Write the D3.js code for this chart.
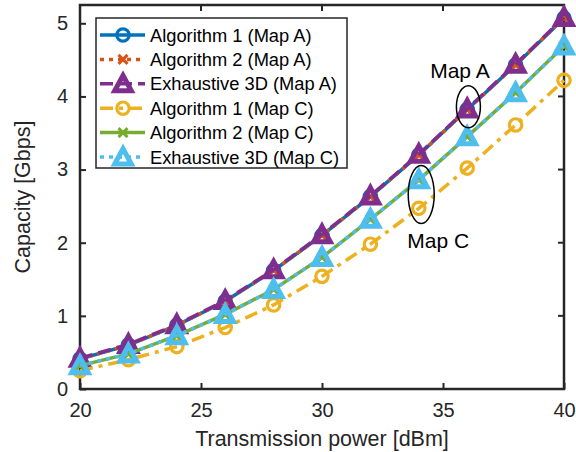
<!DOCTYPE html>
<html>
<head>
<meta charset="utf-8">
<script src="https://cdn.jsdelivr.net/npm/d3@7"></script>
<style>
  body { margin: 0; background: #fff; }
  text { font-family: "Liberation Sans", Arial, sans-serif; fill: #262626; }
</style>
</head>
<body>
<div id="chart"></div>
<script>
var w = 576;
var h = 452;

// data
var power = [20, 22, 24, 26, 28, 30, 32, 34, 36, 38, 40];
var alg1MapA = [0.41, 0.60, 0.87, 1.20, 1.62, 2.10, 2.63, 3.20, 3.82, 4.43, 5.07];
var alg2MapA = [0.41, 0.60, 0.87, 1.20, 1.62, 2.10, 2.63, 3.20, 3.82, 4.43, 5.07];
var exhMapA  = [0.42, 0.61, 0.88, 1.21, 1.63, 2.11, 2.64, 3.21, 3.83, 4.44, 5.08];
var alg1MapC = [0.25, 0.40, 0.58, 0.84, 1.15, 1.54, 1.98, 2.47, 3.02, 3.61, 4.22];
var alg2MapC = [0.32, 0.48, 0.73, 1.02, 1.36, 1.80, 2.32, 2.86, 3.45, 4.05, 4.69];
var exhMapC  = [0.32, 0.48, 0.73, 1.02, 1.36, 1.80, 2.32, 2.86, 3.45, 4.05, 4.69];
var xTicks = [20, 25, 30, 35, 40];
var yTicks = [0, 1, 2, 3, 4, 5];

var series = [
  {name: "Algorithm 1 (Map A)", values: alg1MapA, color: "#0072BD", dash: null, marker: "circle"},
  {name: "Algorithm 2 (Map A)", values: alg2MapA, color: "#D95319", dash: "4,5", marker: "cross"},
  {name: "Exhaustive 3D (Map A)", values: exhMapA, color: "#7E2F8E", dash: "13,6", marker: "triangle"},
  {name: "Algorithm 1 (Map C)", values: alg1MapC, color: "#EDB120", dash: "13,6,4,6", marker: "circle"},
  {name: "Algorithm 2 (Map C)", values: alg2MapC, color: "#77AC30", dash: null, marker: "cross"},
  {name: "Exhaustive 3D (Map C)", values: exhMapC, color: "#4DBEEE", dash: "4,5", marker: "triangle"}
];

var margin = {left: 80, right: 12, top: 5, bottom: 63};

var x = d3.scaleLinear().domain([20, 40]).range([margin.left, w - margin.right]);
var y = d3.scaleLinear().domain([0, 5.25]).range([h - margin.bottom, margin.top]);

var svg = d3.select("#chart").append("svg")
  .attr("width", w)
  .attr("height", h);

// axes box
var axisColor = "#262626";
svg.append("rect")
  .attr("x", margin.left).attr("y", margin.top)
  .attr("width", w - margin.left - margin.right)
  .attr("height", h - margin.top - margin.bottom)
  .attr("fill", "none").attr("stroke", axisColor).attr("stroke-width", 2.5);

var xAxis = d3.axisBottom(x).tickValues(xTicks).tickFormat(d3.format("d"))
  .tickSizeInner(-6).tickSizeOuter(0).tickPadding(14);
var gx = svg.append("g").attr("transform", "translate(0," + (h - margin.bottom) + ")").call(xAxis);
gx.select(".domain").remove();
gx.selectAll("line").attr("stroke", axisColor).attr("stroke-width", 2);
gx.selectAll("text").style("font-size", "20px").attr("fill", axisColor);

var yAxis = d3.axisLeft(y).tickValues(yTicks).tickFormat(d3.format("d"))
  .tickSizeInner(-6).tickSizeOuter(0).tickPadding(12);
var gy = svg.append("g").attr("transform", "translate(" + margin.left + ",0)").call(yAxis);
gy.select(".domain").remove();
gy.selectAll("line").attr("stroke", axisColor).attr("stroke-width", 2);
gy.selectAll("text").style("font-size", "20px").attr("fill", axisColor);

// ticks on the top and right sides of the box
svg.append("g").selectAll("line").data(yTicks).enter().append("line")
  .attr("x1", w - margin.right).attr("x2", w - margin.right - 6)
  .attr("y1", function(d) { return y(d); }).attr("y2", function(d) { return y(d); })
  .attr("stroke", axisColor).attr("stroke-width", 2);
svg.append("g").selectAll("line").data(xTicks).enter().append("line")
  .attr("y1", margin.top).attr("y2", margin.top + 6)
  .attr("x1", function(d) { return x(d); }).attr("x2", function(d) { return x(d); })
  .attr("stroke", axisColor).attr("stroke-width", 2);

// plot lines
var line = d3.line()
  .x(function(d, i) { return x(power[i]); })
  .y(function(d) { return y(d); });

function drawMarker(g, type, color, cx, cy) {
  if (type == "circle") {
    g.append("circle").attr("cx", cx).attr("cy", cy).attr("r", 6.2)
      .attr("fill", "none").attr("stroke", color).attr("stroke-width", 3.2);
  } else if (type == "cross") {
    var s = 4.5;
    g.append("path")
      .attr("d", "M" + (cx - s) + "," + (cy - s) + "L" + (cx + s) + "," + (cy + s) +
                 "M" + (cx - s) + "," + (cy + s) + "L" + (cx + s) + "," + (cy - s))
      .attr("fill", "none").attr("stroke", color).attr("stroke-width", 3);
  } else {
    var r = 8.3;
    g.append("path")
      .attr("d", "M" + cx + "," + (cy - r) + "L" + (cx + r) + "," + (cy + r * 0.85) +
                 "L" + (cx - r) + "," + (cy + r * 0.85) + "Z")
      .attr("fill", "none").attr("stroke", color).attr("stroke-width", 5)
      .attr("stroke-linejoin", "miter");
  }
}

var plot = svg.append("g");
series.forEach(function(s) {
  plot.append("path")
    .attr("d", line(s.values))
    .attr("fill", "none")
    .attr("stroke", s.color)
    .attr("stroke-width", 3.5)
    .attr("stroke-dasharray", s.dash);
  s.values.forEach(function(v, i) {
    drawMarker(plot, s.marker, s.color, x(power[i]), y(v));
  });
});

// axis labels
svg.append("text")
  .attr("x", (margin.left + w - margin.right) / 2)
  .attr("y", 446)
  .style("text-anchor", "middle")
  .style("font-size", "21.5px")
  .text("Transmission power [dBm]");

svg.append("text")
  .attr("transform", "translate(30," + ((margin.top + h - margin.bottom) / 2) + ") rotate(-90)")
  .style("text-anchor", "middle")
  .style("font-size", "21.5px")
  .text("Capacity [Gbps]");

// annotations
svg.append("ellipse").attr("cx", x(36.05)).attr("cy", y(3.86)).attr("rx", 12).attr("ry", 21)
  .attr("fill", "none").attr("stroke", "#000").attr("stroke-width", 1.5);
svg.append("text").attr("x", x(35.7)).attr("y", 78)
  .style("text-anchor", "middle").style("font-size", "21px").style("fill", "#000")
  .text("Map A");
svg.append("ellipse").attr("cx", x(34.1)).attr("cy", y(2.66)).attr("rx", 13).attr("ry", 29)
  .attr("fill", "none").attr("stroke", "#000").attr("stroke-width", 1.5);
svg.append("text").attr("x", x(34.8)).attr("y", 248)
  .style("text-anchor", "middle").style("font-size", "21px").style("fill", "#000")
  .text("Map C");

// legend
var leg = svg.append("g");
leg.append("rect")
  .attr("x", 96).attr("y", 18).attr("width", 251).attr("height", 150)
  .attr("fill", "#fff").attr("stroke", axisColor).attr("stroke-width", 1.5);
series.forEach(function(s, i) {
  var ly = 35 + i * 24.4;
  leg.append("line")
    .attr("x1", 100).attr("x2", 145).attr("y1", ly).attr("y2", ly)
    .attr("stroke", s.color).attr("stroke-width", 3.5)
    .attr("stroke-dasharray", s.dash);
  drawMarker(leg, s.marker, s.color, 123, ly);
  leg.append("text")
    .attr("x", 150).attr("y", ly + 6.5)
    .style("font-size", "18.3px").style("fill", "#000")
    .text(s.name);
});
</script>
</body>
</html>
